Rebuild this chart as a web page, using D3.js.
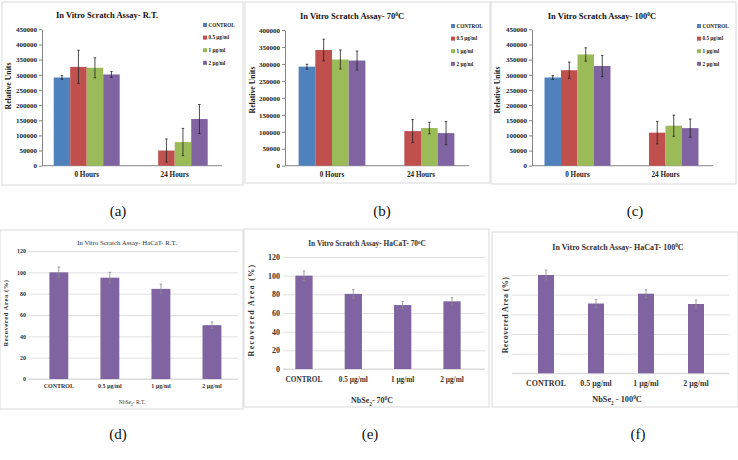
<!DOCTYPE html>
<html>
<head>
<meta charset="utf-8">
<script src="https://cdn.jsdelivr.net/npm/d3@7"></script>
<style>
body{margin:0;background:#fff;}
svg{display:block;font-family:"Liberation Serif","Times New Roman",serif;}
</style>
</head>
<body>
<svg id="fig" width="738" height="460"></svg>
<script>
//Groups and series of the relative units charts
var hourGroups = ["0 Hours", "24 Hours"];
var doseSeries = ["CONTROL", "0.5 µg/ml", "1 µg/ml", "2 µg/ml"];
var unitTicks450 = [0, 50000, 100000, 150000, 200000, 250000, 300000, 350000, 400000, 450000];
var unitTicks400 = [0, 50000, 100000, 150000, 200000, 250000, 300000, 350000, 400000];

//(a) R.T.  one row per hour group, one value per dose
var rtMean = [[291000, 326000, 323000, 301000], [0, 50000, 78000, 154000]];
var rtErr = [[6000, 55000, 33000, 9500], [0, 38000, 45000, 48000]];
//(b) 70C
var t70Mean = [[292000, 341000, 313000, 310000], [0, 102000, 111000, 96000]];
var t70Err = [[7000, 32000, 28000, 28000], [0, 34000, 17000, 34000]];
//(c) 100C
var t100Mean = [[291000, 315000, 367000, 329000], [0, 109000, 132000, 124000]];
var t100Err = [[6000, 27000, 22000, 35000], [0, 37000, 35000, 30000]];

//HaCaT recovered area charts
var doseLabels = ["CONTROL", "0.5 µg/ml", "1 µg/ml", "2 µg/ml"];
var areaTicks120 = [0, 20, 40, 60, 80, 100, 120];
var areaTicks100 = [0, 20, 40, 60, 80, 100];
var hacatRtMean = [100, 95, 84.5, 50.5];
var hacatRtErr = [5, 5, 4.5, 3];
var hacat70Mean = [100, 80.5, 68.5, 72.5];
var hacat70Err = [5, 4.5, 4, 4];
var hacat100Mean = [100, 71, 81, 70.5];
var hacat100Err = [5, 4, 4, 4];

var captions = ["(a)", "(b)", "(c)", "(d)", "(e)", "(f)"];

var seriesColors = ["#4f81bd", "#c0504d", "#9bbb59", "#8064a2"];
var barPurple = "#8064a2";
var svg = d3.select("#fig");

//Write a label, turning ⁰ into a raised 0 and ₂ into a lowered 2
function richText(sel, str){
    var parts = str.split(/([⁰₂])/);
    parts.forEach(function(p){
        if(p === "") return;
        if(p === "⁰") sel.append("tspan").attr("baseline-shift", "super").attr("font-size", "65%").text("0");
        else if(p === "₂") sel.append("tspan").attr("baseline-shift", "sub").attr("font-size", "65%").text("2");
        else sel.append("tspan").text(p);
    });
    return sel;
}

function frame(box){
    svg.append("rect")
    .attr("x", box[0]).attr("y", box[1])
    .attr("width", box[2]-box[0]).attr("height", box[3]-box[1])
    .attr("fill", "none").attr("stroke", "#d9d9d9").attr("stroke-width", 1);
}

function errorBar(g, cx, yTop, yBot, capW, color){
    g.append("line").attr("x1", cx).attr("x2", cx).attr("y1", yTop).attr("y2", yBot)
    .attr("stroke", color).attr("stroke-width", 0.8);
    [yTop, yBot].forEach(function(yy){
        g.append("line").attr("x1", cx-capW/2).attr("x2", cx+capW/2).attr("y1", yy).attr("y2", yy)
        .attr("stroke", color).attr("stroke-width", 0.8);
    });
}

//Grouped bar chart with legend (top row)
function groupedChart(p){
    frame(p.box);
    var g = svg.append("g");
    var y = d3.scaleLinear().domain([0, d3.max(p.ticks)]).range([p.bottom, p.top]);
    var x0 = d3.scaleBand().domain(hourGroups).range([p.left, p.right]).paddingInner(0.25).paddingOuter(0.125);
    var x1 = d3.scaleBand().domain(doseSeries).range([0, x0.bandwidth()]);

    var ya = g.append("g").attr("transform", "translate(" + p.axisX + ",0)")
    .call(d3.axisLeft(y).tickValues(p.ticks).tickFormat(d3.format("d")).tickSizeInner(3).tickSizeOuter(0).tickPadding(2));
    ya.attr("font-family", null).attr("font-size", null);
    ya.selectAll("path,line").attr("stroke", "#868686");
    ya.selectAll("text").attr("font-size", 7).attr("font-weight", "bold").attr("fill", "#222");

    var xa = g.append("g").attr("transform", "translate(0," + p.bottom + ")")
    .call(d3.axisBottom(x0).tickSize(0).tickPadding(6.5));
    xa.attr("font-family", null).attr("font-size", null);
    xa.select("path").attr("stroke", "#868686").attr("d", "M" + p.axisX + ",0H" + p.axisEnd);
    xa.selectAll("text").attr("font-size", 7.2).attr("font-weight", "bold").attr("fill", "#222");

    hourGroups.forEach(function(grp, gi){
        doseSeries.forEach(function(s, si){
            var v = p.mean[gi][si];
            if(v <= 0) return;
            var bx = x0(grp) + x1(s);
            g.append("rect").attr("x", bx).attr("y", y(v))
            .attr("width", x1.bandwidth()).attr("height", y(0)-y(v))
            .attr("fill", seriesColors[si]);
        });
    });
    hourGroups.forEach(function(grp, gi){
        doseSeries.forEach(function(s, si){
            var v = p.mean[gi][si], e = p.err[gi][si];
            if(v <= 0) return;
            var cx = x0(grp) + x1(s) + x1.bandwidth()/2;
            errorBar(g, cx, y(v+e), y(v-e), 2.5, "#222");
        });
    });

    //legend
    var lg = g.append("g");
    doseSeries.forEach(function(s, si){
        var ly = p.legendY + si*12.6;
        lg.append("rect").attr("x", p.legendX).attr("y", ly-2).attr("width", 4).attr("height", 4).attr("fill", seriesColors[si]);
        lg.append("text").attr("x", p.legendX+5.5).attr("y", ly+1.8)
        .attr("font-size", 5.2).attr("font-weight", "bold").attr("fill", "#222").text(s);
    });

    richText(g.append("text").attr("x", p.titleX).attr("y", p.titleY)
    .attr("text-anchor", "middle").attr("font-size", 8.5).attr("font-weight", "bold").attr("fill", "#111"), p.title);

    g.append("text").attr("transform", "translate(" + p.yLabelX + "," + p.yLabelY + ") rotate(-90)")
    .attr("text-anchor", "middle").attr("font-size", 7.8).attr("font-weight", "bold").attr("fill", "#222")
    .text("Relative Units");
}

//Single series bar chart with grid (bottom row)
function areaChart(p){
    frame(p.box);
    var g = svg.append("g");
    var y = d3.scaleLinear().domain([0, d3.max(p.ticks)]).range([p.bottom, p.top]);
    var x = d3.scaleBand().domain(doseLabels).range([p.left, p.right]).paddingInner(p.pad).paddingOuter(p.pad/2);

    var grid = g.append("g").attr("transform", "translate(" + p.gridX0 + ",0)")
    .call(d3.axisLeft(y).tickValues(p.ticks).tickSize(-(p.gridX1-p.gridX0)).tickFormat(""));
    grid.select("path").remove();
    grid.selectAll("line").attr("stroke", "#d9d9d9").attr("stroke-width", 0.8);

    if(p.showTicks){
        var ya = g.append("g").attr("transform", "translate(" + p.tickX + ",0)")
        .call(d3.axisLeft(y).tickValues(p.ticks).tickSize(0).tickPadding(0));
        ya.attr("font-family", null).attr("font-size", null);
        ya.select("path").remove();
        ya.selectAll("text").attr("font-size", p.tickFs).attr("font-weight", "bold").attr("fill", "#333");
    }

    var xa = g.append("g").attr("transform", "translate(0," + p.bottom + ")")
    .call(d3.axisBottom(x).tickSize(0).tickPadding(p.xPad));
    xa.attr("font-family", null).attr("font-size", null);
    xa.select("path").attr("stroke", "#d9d9d9").attr("d", "M" + p.gridX0 + ",0H" + p.gridX1);
    xa.selectAll("text").attr("font-size", p.xFs).attr("font-weight", "bold").attr("fill", "#333");

    doseLabels.forEach(function(d, i){
        var v = p.mean[i];
        g.append("rect").attr("x", x(d)).attr("y", y(v))
        .attr("width", x.bandwidth()).attr("height", y(0)-y(v)).attr("fill", barPurple);
    });
    doseLabels.forEach(function(d, i){
        var v = p.mean[i], e = p.err[i];
        errorBar(g, x(d) + x.bandwidth()/2, y(v+e), y(v-e), 2.5, "#8c8c8c");
    });

    richText(g.append("text").attr("x", p.titleX).attr("y", p.titleY)
    .attr("text-anchor", "middle").attr("font-size", p.titleFs).attr("font-weight", p.titleW).attr("fill", "#333"), p.title);

    g.append("text").attr("transform", "translate(" + p.yLabelX + "," + p.yLabelY + ") rotate(-90)")
    .attr("text-anchor", "middle").attr("font-size", p.yFs).attr("letter-spacing", p.ySpace)
    .attr("font-weight", "bold").attr("fill", "#333").text("Recovered Area (%)");

    richText(g.append("text").attr("x", p.xTitleX).attr("y", p.xTitleY)
    .attr("text-anchor", "middle").attr("font-size", p.xTitleFs).attr("font-weight", p.xTitleW).attr("fill", "#333"), p.xTitle);
}

groupedChart({box: [2, 2, 243, 185], ticks: unitTicks450, mean: rtMean, err: rtErr,
    top: 29.3, bottom: 165.7, left: 42.7, right: 218.7, axisX: 42, axisEnd: 222,
    legendX: 203, legendY: 25, titleX: 107, titleY: 18, yLabelX: 10.5, yLabelY: 86,
    title: "In Vitro Scratch Assay- R.T."});
groupedChart({box: [245, 2, 490, 183], ticks: unitTicks400, mean: t70Mean, err: t70Err,
    top: 30, bottom: 165.7, left: 287.5, right: 465.5, axisX: 285, axisEnd: 469,
    legendX: 451, legendY: 26, titleX: 352, titleY: 19, yLabelX: 254.5, yLabelY: 90,
    title: "In Vitro Scratch Assay- 70⁰C"});
groupedChart({box: [491, 2, 736, 184], ticks: unitTicks450, mean: t100Mean, err: t100Err,
    top: 29.3, bottom: 165.7, left: 533.5, right: 709.5, axisX: 532, axisEnd: 713,
    legendX: 697, legendY: 26, titleX: 602, titleY: 19, yLabelX: 499.5, yLabelY: 90,
    title: "In Vitro Scratch Assay- 100⁰C"});

areaChart({box: [0, 230, 243, 409], ticks: areaTicks120, mean: hacatRtMean, err: hacatRtErr,
    top: 251, bottom: 379, left: 33.3, right: 237.5, pad: 0.63, gridX0: 28, gridX1: 238,
    showTicks: true, tickX: 26, tickFs: 6, xPad: 5, xFs: 6,
    titleX: 127, titleY: 244.5, titleFs: 6.8, titleW: "normal", title: "In Vitro Scratch Assay- HaCaT- R.T.",
    yLabelX: 8, yLabelY: 313, yFs: 6.5, ySpace: 0.6,
    xTitleX: 132, xTitleY: 404, xTitleFs: 5.5, xTitleW: "normal", xTitle: "NbSe₂- R.T."});
areaChart({box: [244, 229, 489, 407], ticks: areaTicks120, mean: hacat70Mean, err: hacat70Err,
    top: 257, bottom: 369, left: 279.3, right: 476.7, pad: 0.65, gridX0: 283, gridX1: 485,
    showTicks: true, tickX: 280, tickFs: 8, xPad: 8, xFs: 7.3,
    titleX: 367, titleY: 245.5, titleFs: 7.4, titleW: "bold", title: "In Vitro Scratch Assay- HaCaT- 70⁰C",
    yLabelX: 254, yLabelY: 310, yFs: 8, ySpace: 1.3,
    xTitleX: 372, xTitleY: 403, xTitleFs: 8, xTitleW: "bold", xTitle: "NbSe₂- 70⁰C"});
areaChart({box: [492, 232, 738, 407], ticks: areaTicks100, mean: hacat100Mean, err: hacat100Err,
    top: 275, bottom: 373.3, left: 521, right: 721, pad: 0.68, gridX0: 512, gridX1: 729,
    showTicks: false, xPad: 7, xFs: 7.9,
    titleX: 618, titleY: 249.5, titleFs: 8, titleW: "bold", title: "In Vitro Scratch Assay- HaCaT- 100⁰C",
    yLabelX: 508, yLabelY: 315, yFs: 8, ySpace: 0.4,
    xTitleX: 617, xTitleY: 402, xTitleFs: 8.3, xTitleW: "bold", xTitle: "NbSe₂ - 100⁰C"});

//Panel captions
var capPos = [[118, 216], [382, 216], [635, 216], [118, 439], [370, 439], [638, 439]];
captions.forEach(function(c, i){
    svg.append("text").attr("x", capPos[i][0]).attr("y", capPos[i][1])
    .attr("text-anchor", "middle").attr("font-size", 15).attr("fill", "#111").text(c);
});
</script>
</body>
</html>
